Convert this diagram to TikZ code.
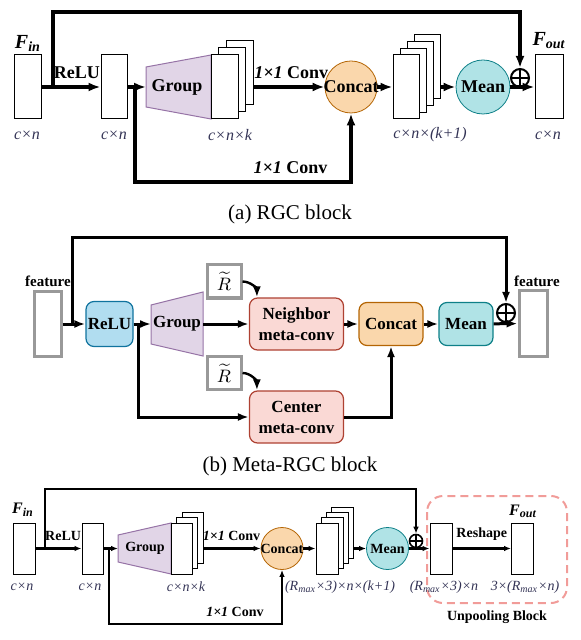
\documentclass[tikz,border=0pt]{standalone}
\usepackage{fontspec}
\setmainfont{Liberation Serif}
\usepackage{tikz}
\usetikzlibrary{arrows.meta}
\usetikzlibrary{positioning}

\definecolor{dimcol}{RGB}{51,51,85}
\definecolor{grpfill}{HTML}{E1D5E7}
\definecolor{grpline}{HTML}{9673A6}
\definecolor{catfill}{HTML}{FAD7AC}
\definecolor{catline}{HTML}{B46504}
\definecolor{meanfill}{HTML}{B0E3E6}
\definecolor{meanline}{HTML}{0E8088}
\definecolor{relufill}{HTML}{B1DDF0}
\definecolor{reluline}{HTML}{10739E}
\definecolor{convfill}{HTML}{FAD9D5}
\definecolor{convline}{HTML}{AE4132}
\definecolor{poolline}{HTML}{F19C99}

\tikzset{
  box/.style={draw, fill=white, line width=0.5pt, inner sep=0pt},
  abox/.style={box, minimum width=13.5pt, minimum height=32pt},
  cbox/.style={box, minimum width=11pt, minimum height=25.5pt},
  gbox/.style={draw=gray!80, line width=1.5pt, fill=white, inner sep=0pt},
  grp/.style={draw=grpline, fill=grpfill, line width=0.5pt},
  rbox/.style={rounded corners=4pt, inner sep=0pt, line width=0.6pt, align=center},
  lbla/.style={font=\bfseries\fontsize{9}{10}\selectfont},
  lblb/.style={font=\bfseries\fontsize{8.5}{10.5}\selectfont},
  lblc/.style={font=\bfseries\fontsize{7}{8}\selectfont},
  fa/.style={font=\bfseries\itshape\fontsize{10}{12}\selectfont},
  fc/.style={font=\bfseries\itshape\fontsize{8}{10}\selectfont},
  feat/.style={font=\bfseries\fontsize{7.5}{9}\selectfont},
  dima/.style={font=\itshape\fontsize{8}{9}\selectfont, text=dimcol},
  dimc/.style={font=\itshape\fontsize{7}{8}\selectfont, text=dimcol},
  capt/.style={font=\fontsize{10.5}{12}\selectfont},
  lna/.style={line width=2pt, -{Latex[length=6pt,width=4.5pt]}},
  lnb/.style={line width=1.5pt, -{Latex[length=5.5pt,width=4pt]}},
  lnc/.style={line width=1.2pt, -{Latex[length=3.5pt,width=2.8pt]}},
  plus/.style={circle, draw, line width=1pt, inner sep=0pt, minimum size=#1,
    path picture={\draw[line width=1pt] (path picture bounding box.north) -- (path picture bounding box.south)
      (path picture bounding box.west) -- (path picture bounding box.east);}},
}

\begin{document}
\begin{tikzpicture}[x=0.5pt, y=-0.5pt]
	\useasboundingbox (0,0) rectangle (580,640);

	% (a) RGC block
	\node[abox] (fina) at (27.5,87) {};
	\node[fa] (fina-t) at (28,43) {F\textsubscript{in}};
	\node[dima] (fina-d) at (27,135) {c×n};
	\node[abox, minimum width=13pt] (rla) at (114,87) {};
	\node[dima] (rla-d) at (114,135) {c×n};
	\draw[grp] (146,67) -- (211,55) -- (211,119) -- (146,107) -- cycle;
	\coordinate (gain) at (146,87);
	\node[lbla] (ga) at (177,87) {Group};
	\foreach \i in {2,1,0}
		\node[abox] (ka\i) at ({224.5+7.5*\i},{87-7*\i}) {};
	\node[dima] (ka-d) at (230,135) {c×n×k};
	\node[circle, draw=catline, fill=catfill, minimum size=26pt, inner sep=0pt] (ca) at (351,87) {};
	\node[lbla] (ca-t) at (ca) {Concat};
	\foreach \i in {3,2,1,0}
		\node[abox, minimum width=13pt] (kb\i) at ({406+7.3*\i},{87-6.7*\i}) {};
	\node[dima] (kb-d) at (430,135) {c×n×(k+1)};
	\node[circle, draw=meanline, fill=meanfill, minimum size=27pt, inner sep=0pt] (ma) at (483,87) {};
	\node[lbla] (ma-t) at (ma) {Mean};
	\node[plus=9pt] (pa) at (520,78) {};
	\node[abox, minimum width=14pt] (fouta) at (549,87) {};
	\node[fa] (fouta-t) at (549,41) {F\textsubscript{out}};
	\node[dima] (fouta-d) at (548,135) {c×n};

	\coordinate (sa) at (53,87);
	\coordinate (ta) at (520,12);
	\coordinate (ba) at (135,87);
	\coordinate (bta) at (351,182);
	\draw[lna] (fina) -- node[lbla, above, pos=0.6] (rla-l) {ReLU} (rla);
	\draw[lna] (sa) |- (ta) -- (pa);
	\draw[lna] (rla) -- (gain);
	\draw[lna] (ba) |- node[lbla, above, pos=0.86] (cv2a) {\textit{1×1} Conv} (bta) -- (ca);
	\draw[lna] (ka0.east -| ka2.east) -- node[lbla, above, pos=0.53] (cv1a) {\textit{1×1} Conv} (ca);
	\draw[lna] (ca) -- (kb0);
	\draw[lna] (kb0.east -| kb3.east) -- (ma);
	\draw[lna] (ma) -- (fouta);

	\node[capt] (capa) at (290,214) {(a) RGC block};

	% (b) Meta-RGC block
	\node[gbox, minimum width=13.5pt, minimum height=32.5pt] (fb) at (47.5,324) {};
	\node[feat] (fb-t) at (48,281) {feature};
	\node[rbox, draw=reluline, fill=relufill, minimum width=23.5pt, minimum height=22.5pt, lblb] (rb) at (109.5,324) {ReLU};
	\draw[grp] (151,305) -- (203,292) -- (203,356) -- (151,344) -- cycle;
	\coordinate (gbin) at (151,324);
	\coordinate (gbout) at (203,324);
	\node[lblb] (gb) at (177,324) {Group};
	\node[gbox, minimum width=17pt, minimum height=16.5pt, font=\fontsize{9}{10}\selectfont] (rt1) at (224,281.5) {$\widetilde{R}$};
	\node[gbox, minimum width=17pt, minimum height=16.5pt, font=\fontsize{9}{10}\selectfont] (rt2) at (224,373) {$\widetilde{R}$};
	\node[rbox, draw=convline, fill=convfill, minimum width=47pt, minimum height=26pt, lblb] (nb) at (296.5,324) {Neighbor\\meta-conv};
	\node[rbox, draw=convline, fill=convfill, minimum width=47pt, minimum height=26pt, lblb] (ctb) at (296.5,417) {Center\\meta-conv};
	\node[rbox, draw=catline, fill=catfill, minimum width=32pt, minimum height=21.5pt, lblb] (cb) at (391,324) {Concat};
	\node[rbox, draw=meanline, fill=meanfill, minimum width=27pt, minimum height=21.5pt, lblb] (mb) at (466,324) {Mean};
	\node[plus=9pt] (pb) at (506,313) {};
	\node[gbox, minimum width=14pt, minimum height=32.5pt] (fob) at (533,323.5) {};
	\node[feat] (fob-t) at (537,281) {feature};

	\coordinate (sb) at (72,324);
	\coordinate (tb) at (506,238);
	\coordinate (bb) at (138,324);
	\draw[lnb] (fb) -- (rb);
	\draw[lnb] (sb) |- (tb) -- (pb);
	\draw[lnb] (rb) -- (gbin);
	\draw[lnb] (bb) |- (ctb);
	\draw[lnb] (gbout) -- (nb);
	\draw[lnb, line width=1.2pt] (rt1.east) to[out=0, in=90] ([xshift=4pt]nb.north west);
	\draw[lnb, line width=1.2pt] (rt2.east) to[out=0, in=90] ([xshift=4pt]ctb.north west);
	\draw[lnb] (nb) -- (cb);
	\draw[lnb] (ctb) -| (cb);
	\draw[lnb] (cb) -- (mb);
	\draw[lnb] (mb) -- (fob);

	\node[capt] (capb) at (290,466) {(b) Meta-RGC block};

	% (c) with unpooling block
	\draw[dashed, dash pattern=on 4pt off 2.5pt, draw=poolline, line width=1pt, rounded corners=8pt] (427,496) rectangle (567,603);
	\node[cbox] (fic) at (24,548.5) {};
	\node[fc] (fic-t) at (23,510) {F\textsubscript{in}};
	\node[dimc] (fic-d) at (22,587) {c×n};
	\node[cbox, minimum width=10.5pt] (rc) at (92.5,548.5) {};
	\node[dimc] (rc-d) at (90,587) {c×n};
	\draw[grp] (118,535) -- (171,523) -- (171,574) -- (118,562) -- cycle;
	\coordinate (gcin) at (118,548.5);
	\node[lblc] (gc) at (145,548.5) {Group};
	\foreach \i in {2,1,0}
		\node[cbox, minimum width=10.5pt] (kc\i) at ({181.5+5.5*\i},{548.5-5.5*\i}) {};
	\node[dimc] (kc-d) at (186,587) {c×n×k};
	\node[circle, draw=catline, fill=catfill, minimum size=21pt, inner sep=0pt] (cc) at (282,548.5) {};
	\node[lblc] (cc-t) at (cc) {Concat};
	\foreach \i in {3,2,1,0}
		\node[cbox] (kd\i) at ({327+5.3*\i},{548.5-5.3*\i}) {};
	\node[dimc] (kd-d) at (340,587) {(R\textsubscript{max}×3)×n×(k+1)};
	\node[circle, draw=meanline, fill=meanfill, minimum size=21pt, inner sep=0pt] (mc) at (387.5,548.5) {};
	\node[lblc] (mc-t) at (mc) {Mean};
	\node[plus=6.5pt, line width=0.8pt] (pc) at (416,541) {};
	\node[cbox] (uc) at (441,548.5) {};
	\node[dimc] (uc-d) at (444,587) {(R\textsubscript{max}×3)×n};
	\node[cbox] (foc) at (522.5,548.5) {};
	\node[fc] (foc-t) at (523,511) {F\textsubscript{out}};
	\node[dimc] (foc-d) at (525,587) {3×(R\textsubscript{max}×n)};
	\node[lblc] (pool) at (497,617) {Unpooling Block};

	\coordinate (sc) at (45,548.5);
	\coordinate (tc) at (416,489);
	\coordinate (bc) at (109,548.5);
	\coordinate (btc) at (282,624);
	\draw[lnc] (fic) -- node[lblc, above, pos=0.6] (rc-l) {ReLU} (rc);
	\draw[lnc] (sc) |- (tc) -- (pc);
	\draw[lnc] (rc) -- (gcin);
	\draw[lnc] (bc) |- node[lblc, above, pos=0.864] (cv2c) {\textit{1×1} Conv} (btc) -- (cc);
	\draw[lnc] (kc0.east -| kc2.east) -- node[lblc, above, pos=0.49] (cv1c) {\textit{1×1} Conv} (cc);
	\draw[lnc] (cc) -- (kd0);
	\draw[lnc] (kd0.east -| kd3.east) -- (mc);
	\draw[lnc] (mc) -- (uc);
	\draw[lnc] (uc) -- node[lblc, above] (rs) {Reshape} (foc);
\end{tikzpicture}
\end{document}
